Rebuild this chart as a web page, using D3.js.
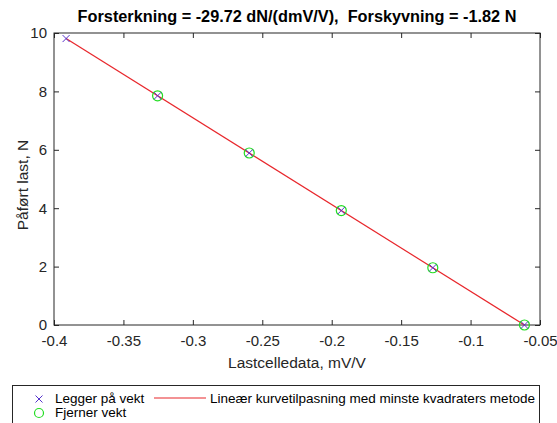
<!DOCTYPE html>
<html><head><meta charset="utf-8">
<script src="https://cdn.jsdelivr.net/npm/d3@7"></script>
<style>body{margin:0;background:#fff}svg{display:block}text{font-family:"Liberation Sans",Arial,sans-serif;white-space:pre}</style>
</head><body>
<svg id="c" width="557" height="423"></svg>
<script>
const addX = [-0.3913, -0.3254, -0.2594, -0.1931, -0.1272, -0.0612];
const addY = [9.81, 7.85, 5.89, 3.92, 1.96, 0];
const remX = [-0.3254, -0.2594, -0.1931, -0.1272, -0.0612];
const remY = [7.85, 5.89, 3.92, 1.96, 0];
const gain = -29.72, offset = -1.82;
const fitX = [-0.3913, -0.0612];
const xTicks = [-0.4, -0.35, -0.3, -0.25, -0.2, -0.15, -0.1, -0.05];
const yTicks = [0, 2, 4, 6, 8, 10];
const title = "Forsterkning = -29.72 dN/(dmV/V),  Forskyvning = -1.82 N";
const xLabel = "Lastcelledata, mV/V";
const yLabel = "Påført last, N";
const legendLabels = ["Legger på vekt", "Fjerner vekt", "Lineær kurvetilpasning med minste kvadraters metode"];

const svg = d3.select("#c");
const L = 54, R = 540, T = 33, B = 325;
const x = d3.scaleLinear().domain([-0.4, -0.05]).range([L, R]);
const y = d3.scaleLinear().domain([0, 10]).range([B, T]);

svg.append("rect").attr("x", L).attr("y", T).attr("width", R - L).attr("height", B - T)
  .attr("fill", "#fff").attr("stroke", "#262626").attr("stroke-width", 1);

const fmt = d => d === 0 ? "0" : String(d);
const gx = svg.append("g").attr("transform", `translate(0,${B})`)
  .call(d3.axisBottom(x).tickValues(xTicks).tickSize(-5).tickPadding(10).tickFormat(fmt));
const gx2 = svg.append("g").attr("transform", `translate(0,${T})`)
  .call(d3.axisTop(x).tickValues(xTicks).tickSize(-5).tickFormat(""));
const gy = svg.append("g").attr("transform", `translate(${L},0)`)
  .call(d3.axisLeft(y).tickValues(yTicks).tickSize(-5).tickPadding(7).tickFormat(fmt));
const gy2 = svg.append("g").attr("transform", `translate(${R},0)`)
  .call(d3.axisRight(y).tickValues(yTicks).tickSize(-5).tickFormat(""));
[gx, gx2, gy, gy2].forEach(g => {
  g.select(".domain").remove();
  g.selectAll("line").attr("stroke", "#262626");
  g.selectAll("text").attr("font-size", 15).attr("fill", "#262626")
    .attr("font-family", "Liberation Sans, Arial, sans-serif");
});

svg.append("line")
  .attr("x1", x(fitX[0])).attr("y1", y(gain * fitX[0] + offset))
  .attr("x2", x(fitX[1])).attr("y2", y(gain * fitX[1] + offset))
  .attr("stroke", "#e8262b").attr("stroke-width", 1.2);

svg.append("g").selectAll("circle").data(remX).join("circle")
  .attr("cx", d => x(d)).attr("cy", (d, i) => y(remY[i])).attr("r", 5)
  .attr("fill", "none").attr("stroke", "#22dd22").attr("stroke-width", 1.2);

const cross = (g, cx, cy, s) => {
  g.append("path").attr("d", `M${cx - s},${cy - s}L${cx + s},${cy + s}M${cx - s},${cy + s}L${cx + s},${cy - s}`)
    .attr("stroke", "#5533cc").attr("stroke-width", 1).attr("fill", "none");
};
const gc = svg.append("g");
addX.forEach((d, i) => cross(gc, x(d), y(addY[i]), 3.5));

svg.append("text").attr("x", (L + R) / 2).attr("y", 22).attr("text-anchor", "middle")
  .attr("font-size", 16.3).attr("font-weight", "bold").attr("fill", "#000").text(title);
svg.append("text").attr("x", (L + R) / 2).attr("y", 368).attr("text-anchor", "middle")
  .attr("font-size", 15.5).attr("fill", "#262626").text(xLabel);
svg.append("text").attr("transform", `translate(28,${(T + B) / 2 + 6}) rotate(-90)`).attr("text-anchor", "middle")
  .attr("font-size", 15.5).attr("fill", "#262626").text(yLabel);

const lg = svg.append("g");
lg.append("rect").attr("x", 12.5).attr("y", 385.5).attr("width", 527).attr("height", 40)
  .attr("fill", "#fff").attr("stroke", "#262626").attr("stroke-width", 1);
cross(lg, 39, 399, 3.5);
lg.append("circle").attr("cx", 39).attr("cy", 413).attr("r", 4.5).attr("fill", "none")
  .attr("stroke", "#22dd22").attr("stroke-width", 1.2);
lg.append("line").attr("x1", 154).attr("x2", 206).attr("y1", 398).attr("y2", 398)
  .attr("stroke", "#e8262b").attr("stroke-width", 1.2);
lg.append("text").attr("x", 55).attr("y", 403).attr("font-size", 13.5).attr("fill", "#000").text(legendLabels[0]);
lg.append("text").attr("x", 55).attr("y", 417).attr("font-size", 13.5).attr("fill", "#000").text(legendLabels[1]);
lg.append("text").attr("x", 210).attr("y", 403).attr("font-size", 13.5).attr("fill", "#000").text(legendLabels[2]);
</script>
</body></html>
